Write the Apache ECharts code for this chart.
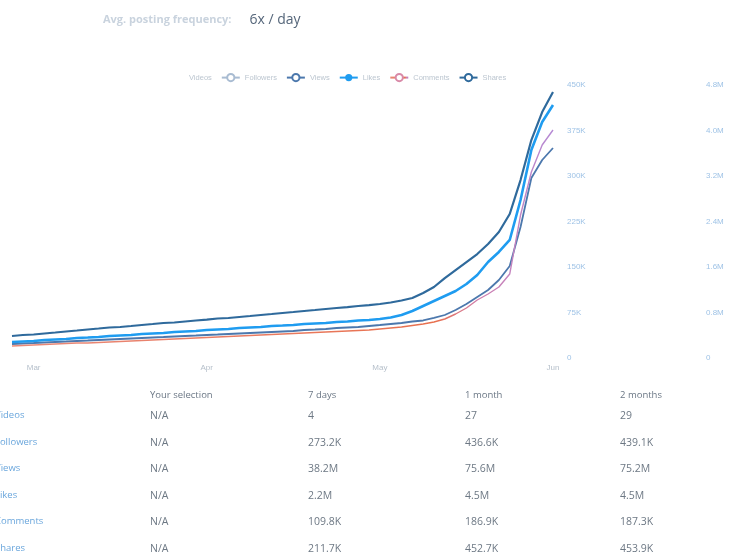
<!DOCTYPE html>
<html><head><meta charset="utf-8">
<script src="https://cdn.jsdelivr.net/npm/echarts@6/dist/echarts.min.js"></script>
<style>
html,body{margin:0;padding:0;background:#fff;font-family:"Open Sans","Noto Sans",sans-serif;}
#chart{position:absolute;left:0;top:0;width:729px;height:558px;}
#tbl{position:absolute;left:0;top:382px;width:729px;font-size:10.5px;}
.row{position:absolute;left:0;width:729px;height:20px;}
.row span{position:absolute;white-space:nowrap;}
</style></head>
<body>
<div id="chart"></div>
<div id="tbl"></div>
<script>
// x-axis tick labels (index -> label)
const tickLabels = {2:'Mar', 18:'Apr', 34:'May', 50:'Jun'};
const pointCount = 51;

// Shares (K)
const sharesK = [36.3,37.9,38.7,40.4,42.0,43.7,45.3,47.0,48.6,50.3,51.1,52.7,54.4,56.0,57.7,58.5,60.2,61.8,63.4,65.1,65.9,67.6,69.2,70.9,72.5,74.2,75.8,77.5,79.1,80.8,82.4,84.0,85.7,87.3,89.0,91.5,94.8,98.9,107.1,117.0,131.8,145.0,158.2,171.4,187.9,207.6,237.3,293.3,359.3,405.4,438.4];
// Likes (M)
const likesM = [0.281,0.290,0.299,0.316,0.325,0.334,0.352,0.360,0.369,0.387,0.396,0.404,0.422,0.431,0.440,0.457,0.466,0.475,0.492,0.501,0.510,0.527,0.536,0.545,0.563,0.571,0.580,0.598,0.607,0.615,0.633,0.642,0.659,0.668,0.686,0.712,0.756,0.826,0.914,1.002,1.090,1.178,1.301,1.459,1.688,1.864,2.075,2.778,3.657,4.149,4.448];
// Comments (K)
const commentsK = [9.85,10.26,10.67,11.08,11.49,11.90,12.31,12.31,12.72,13.13,13.54,13.95,14.36,14.77,15.18,15.59,16.0,16.41,16.82,17.23,17.64,18.05,18.46,18.87,19.28,19.69,20.10,20.51,20.92,21.33,21.74,22.15,22.56,22.97,23.79,24.62,25.44,26.67,27.90,29.54,32.0,36.10,41.03,47.59,52.51,58.26,68.92,117.33,152.62,174.77,187.08];
// Views (M)
const viewsM = [4.92,5.10,5.27,5.45,5.63,5.80,5.98,6.15,6.33,6.51,6.68,6.86,7.03,7.21,7.38,7.56,7.74,7.91,8.09,8.26,8.44,8.62,8.79,8.97,9.14,9.32,9.49,9.85,10.02,10.20,10.55,10.73,10.90,11.25,11.60,11.96,12.31,12.84,13.19,14.07,15.12,16.88,18.99,21.45,23.91,27.43,32.35,46.07,63.30,69.63,73.85];

// table
const tableHeads = ['Your selection','7 days','1 month','2 months'];
const tableRows = ['Videos','Followers','Views','Likes','Comments','Shares'];
const colSelection = ['N/A','N/A','N/A','N/A','N/A','N/A'];
const col7d = ['4','273.2K','38.2M','2.2M','109.8K','211.7K'];
const col1m = ['27','436.6K','75.6M','4.5M','186.9K','452.7K'];
const col2m = ['29','439.1K','75.2M','4.5M','187.3K','453.9K'];

const xCats = Array.from({length: pointCount}, (_, i) => i);

const chart = echarts.init(document.getElementById('chart'), null, {renderer:'canvas'});
const commentsColor = new echarts.graphic.LinearGradient(0,0,1,0,[
  {offset:0,color:'#e98a7a'},{offset:0.78,color:'#e8704e'},{offset:0.86,color:'#cf7fae'},{offset:1,color:'#b48ad6'}]);

chart.setOption({
  animation:false,
  title:{
    text:'{a|Avg. posting frequency:}{b|6x / day}',
    left:98, top:8,
    textStyle:{rich:{
      a:{fontSize:11,color:'#c9d3de',fontFamily:'Open Sans'},
      b:{fontSize:14,color:'#55667a',fontFamily:'Open Sans',fontWeight:'normal',padding:[0,0,0,18]}
    }}
  },
  legend:{
    top:68, left:160, itemGap:9, itemWidth:18, itemHeight:9,
    textStyle:{fontSize:7.5,color:'#bcc6d0'},
    data:[
      {name:'Videos', itemStyle:{opacity:0}, lineStyle:{opacity:0}},
      'Followers','Views','Likes','Comments','Shares'
    ]
  },
  grid:{left:12, right:176, top:85, bottom:200},
  xAxis:{
    type:'category', data:xCats, boundaryGap:false,
    axisLine:{show:false}, axisTick:{show:false},
    axisLabel:{
      interval:0, color:'#b5bfca', fontSize:8, margin:6,
      formatter:(v)=> tickLabels[v] || ''
    },
    splitLine:{show:false}
  },
  yAxis:[
    {type:'value', position:'right', min:0, max:450, interval:75,
     axisLine:{show:false}, axisTick:{show:false}, splitLine:{show:false},
     axisLabel:{color:'#9fc3e6', fontSize:8, margin:14, formatter:(v)=> v===0?'0':v+'K'}},
    {type:'value', position:'right', offset:145, min:0, max:4.8, interval:0.8,
     axisLine:{show:false}, axisTick:{show:false}, splitLine:{show:false},
     axisLabel:{color:'#9fc3e6', fontSize:8, margin:8, formatter:(v)=> v===0?'0':v.toFixed(1)+'M'}},
    {type:'value', show:false, min:0, max:224},
    {type:'value', show:false, min:0, max:96}
  ],
  series:[
    {name:'Videos', type:'line', yAxisIndex:0, data:[], color:'#ffffff'},
    {name:'Followers', type:'line', yAxisIndex:0, data:[], color:'#a9bcd2', symbol:'emptyCircle'},
    {name:'Views', type:'line', yAxisIndex:3, data:viewsM, color:'#4c78ad', symbol:'emptyCircle', showSymbol:false,
     lineStyle:{width:1.8}},
    {name:'Likes', type:'line', yAxisIndex:1, data:likesM, color:'#1f9cf0', symbol:'circle', showSymbol:false,
     lineStyle:{width:2.6}},
    {name:'Comments', type:'line', yAxisIndex:2, data:commentsK, color:'#d98aa8', symbol:'emptyCircle', showSymbol:false,
     lineStyle:{width:1.4, color:commentsColor}},
    {name:'Shares', type:'line', yAxisIndex:0, data:sharesK, color:'#2f6a9c', symbol:'emptyCircle', showSymbol:false,
     lineStyle:{width:2.2}}
  ]
});

// table build
const tbl = document.getElementById('tbl');
const colX = [150, 308, 465, 620];
const head = document.createElement('div');
head.className='row'; head.style.top='6px';
tableHeads.forEach((h,i)=>{const s=document.createElement('span');s.textContent=h;s.style.left=colX[i]+'px';s.style.color='#6b7785';s.style.fontSize='9.5px';head.appendChild(s);});
tbl.appendChild(head);
const cols = [colSelection, col7d, col1m, col2m];
tableRows.forEach((r,ri)=>{
  const row=document.createElement('div'); row.className='row'; row.style.top=(26+ri*26.6)+'px';
  const l=document.createElement('span'); l.textContent=r; l.style.left='-5px'; l.style.color='#6aa6dc'; l.style.fontSize='9.5px'; row.appendChild(l);
  cols.forEach((c,ci)=>{const s=document.createElement('span');s.textContent=c[ri];s.style.left=colX[ci]+'px';s.style.color='#6d7884';row.appendChild(s);});
  tbl.appendChild(row);
});
</script>
</body></html>
